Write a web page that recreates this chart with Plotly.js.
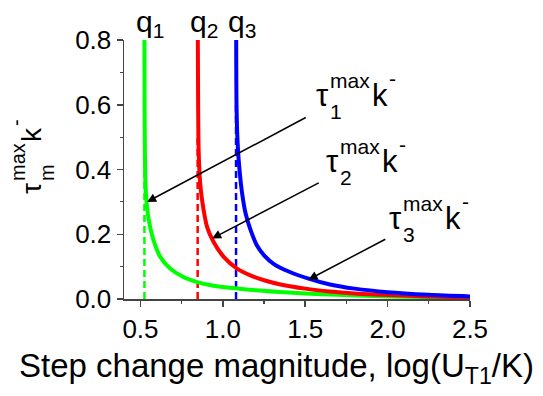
<!DOCTYPE html>
<html>
<head>
<meta charset="utf-8">
<script src="https://cdn.plot.ly/plotly-3.0.1.min.js"></script>
<style>html,body{margin:0;padding:0;background:#fff;}#chart{width:543px;height:396px;}</style>
</head>
<body>
<div id="chart"></div>
<script>
// Curve q1 (green)
var q1X = [0.524, 0.525, 0.527, 0.530, 0.537, 0.55, 0.58, 0.62, 0.68, 0.76, 0.84, 0.92, 1.0, 1.2, 1.4, 1.6, 1.8, 2.0, 2.25, 2.5];
var q1Y = [0.80, 0.60, 0.45, 0.36, 0.30, 0.245, 0.18, 0.13, 0.094, 0.068, 0.053, 0.043, 0.037, 0.027, 0.020, 0.015, 0.011, 0.008, 0.006, 0.004];
// Curve q2 (red)
var q2X = [0.848, 0.850, 0.853, 0.862, 0.874, 0.904, 0.944, 1.005, 1.086, 1.167, 1.25, 1.35, 1.5, 1.65, 1.8, 2.0, 2.25, 2.5];
var q2Y = [0.80, 0.60, 0.46, 0.36, 0.305, 0.223, 0.176, 0.13, 0.094, 0.073, 0.058, 0.045, 0.032, 0.023, 0.017, 0.012, 0.008, 0.005];
// Curve q3 (blue)
var q3X = [1.081, 1.083, 1.088, 1.096, 1.116, 1.14, 1.167, 1.207, 1.25, 1.31, 1.4, 1.52, 1.65, 1.8, 2.0, 2.25, 2.5];
var q3Y = [0.80, 0.60, 0.50, 0.43, 0.33, 0.26, 0.215, 0.165, 0.135, 0.108, 0.085, 0.063, 0.045, 0.032, 0.021, 0.013, 0.008];
// Asymptote positions (dashed markers)
var asymX = [0.524, 0.847, 1.08];
var asymTop = [0.45, 0.5, 0.6];
var curveColors = ['#00ff00', '#ff0000', '#0000ff'];
var qLabels = ['q<sub>1</sub>', 'q<sub>2</sub>', 'q<sub>3</sub>'];
var tauSubs = ['1', '2', '3'];
// label anchor (data coords of tau's left / centre line) and arrow tails/heads
var tauLabelX = [1.559, 1.619, 2.002];
var tauLabelY = [0.628, 0.424, 0.248];
var arrowTailX = [1.512, 1.591, 1.995];
var arrowTailY = [0.563, 0.361, 0.187];
var arrowHeadX = [0.54, 0.935, 1.52];
var arrowHeadY = [0.30, 0.187, 0.06];
var xTicks = [0.5, 1.0, 1.5, 2.0, 2.5];
var yTicks = [0.0, 0.2, 0.4, 0.6, 0.8];

var FONT = 'Liberation Sans, Arial, sans-serif';

var data = [];
for (var i = 0; i < 3; i++) {
  data.push({x: [asymX[i], asymX[i]], y: [0, asymTop[i]], mode: 'lines', type: 'scatter',
    line: {color: curveColors[i], width: 2.5, dash: '7px,4px'}, hoverinfo: 'skip', showlegend: false});
}
var cx = [q1X, q2X, q3X], cy = [q1Y, q2Y, q3Y];
for (var j = 0; j < 3; j++) {
  data.push({x: cx[j], y: cy[j], mode: 'lines', type: 'scatter',
    line: {color: curveColors[j], width: 4, shape: 'spline', smoothing: 0.8}, showlegend: false});
}

function part(base, txt, size, xs, ys, extra) {
  var a = {text: txt, showarrow: false, borderpad: 0, xshift: xs, yshift: ys,
    font: {family: FONT, size: size, color: '#000'}};
  for (var key in base) a[key] = base[key];
  for (var key2 in (extra || {})) a[key2] = extra[key2];
  return a;
}

var ann = [];
for (var k = 0; k < 3; k++) {
  ann.push({x: asymX[k], xref: 'x', y: 1.062, yref: 'paper', text: qLabels[k], showarrow: false,
    xanchor: 'left', yanchor: 'middle', xshift: -10, font: {family: FONT, size: 30, color: '#000'}});
  var b = {x: tauLabelX[k], y: tauLabelY[k], xref: 'x', yref: 'y', xanchor: 'left', yanchor: 'middle'};
  ann.push(part(b, 'τ', 31, 0, 0));
  ann.push(part(b, 'max', 21, 14, 15));
  ann.push(part(b, tauSubs[k], 21, 14, -16));
  ann.push(part(b, 'k', 31, 56, 0));
  ann.push(part(b, '-', 21, 73, 17));
  ann.push({x: arrowHeadX[k], y: arrowHeadY[k], xref: 'x', yref: 'y', ax: arrowTailX[k], ay: arrowTailY[k],
    axref: 'x', ayref: 'y', text: '', showarrow: true, arrowhead: 2, arrowsize: 1.2, arrowwidth: 1.5, arrowcolor: '#000'});
}
ann.push({x: 0.442, y: -0.268, xref: 'paper', yref: 'paper', text: 'Step change magnitude, log(U<sub>T1</sub>/K)',
  showarrow: false, xanchor: 'center', yanchor: 'middle', font: {family: FONT, size: 33, color: '#000'}});
// rotated y-axis title, built from parts
var yb = {x: -0.266, y: 0.4286, xref: 'paper', yref: 'paper', xanchor: 'center', yanchor: 'middle'};
var rot = {textangle: -90};
ann.push(part(yb, 'τ', 28, 0, 0, rot));
ann.push(part(yb, 'max', 20, -14, 26, rot));
ann.push(part(yb, 'm', 20, 15, 16, rot));
ann.push(part(yb, 'k', 28, 0, 54, rot));
ann.push(part(yb, '-', 20, -16, 66, rot));

var layout = {
  width: 543, height: 396,
  margin: {l: 124, r: 73, t: 40, b: 97},
  paper_bgcolor: '#fff', plot_bgcolor: '#fff',
  font: {family: FONT, color: '#000'},
  xaxis: {range: [0.4, 2.5], tickvals: xTicks, tickformat: '.1f', ticks: 'outside', ticklen: 6, tickwidth: 1.5,
    tickcolor: '#444', showline: true, linecolor: '#444', linewidth: 1.5, showgrid: false, zeroline: false,
    tickfont: {family: FONT, size: 26, color: '#000'},
    minor: {tick0: 0.5, dtick: 0.25, ticks: 'outside', ticklen: 3, tickwidth: 1.2, tickcolor: '#444', showgrid: false}},
  yaxis: {range: [0, 0.8], tickvals: yTicks, tickformat: '.1f', ticks: 'outside', ticklen: 6, tickwidth: 1.5,
    tickcolor: '#444', showline: true, linecolor: '#444', linewidth: 1.5, showgrid: false, zeroline: false,
    tickfont: {family: FONT, size: 26, color: '#000'},
    minor: {tick0: 0, dtick: 0.1, ticks: 'outside', ticklen: 3, tickwidth: 1.2, tickcolor: '#444', showgrid: false}},
  annotations: ann,
  showlegend: false
};
Plotly.newPlot('chart', data, layout, {staticPlot: true});
</script>
</body>
</html>
